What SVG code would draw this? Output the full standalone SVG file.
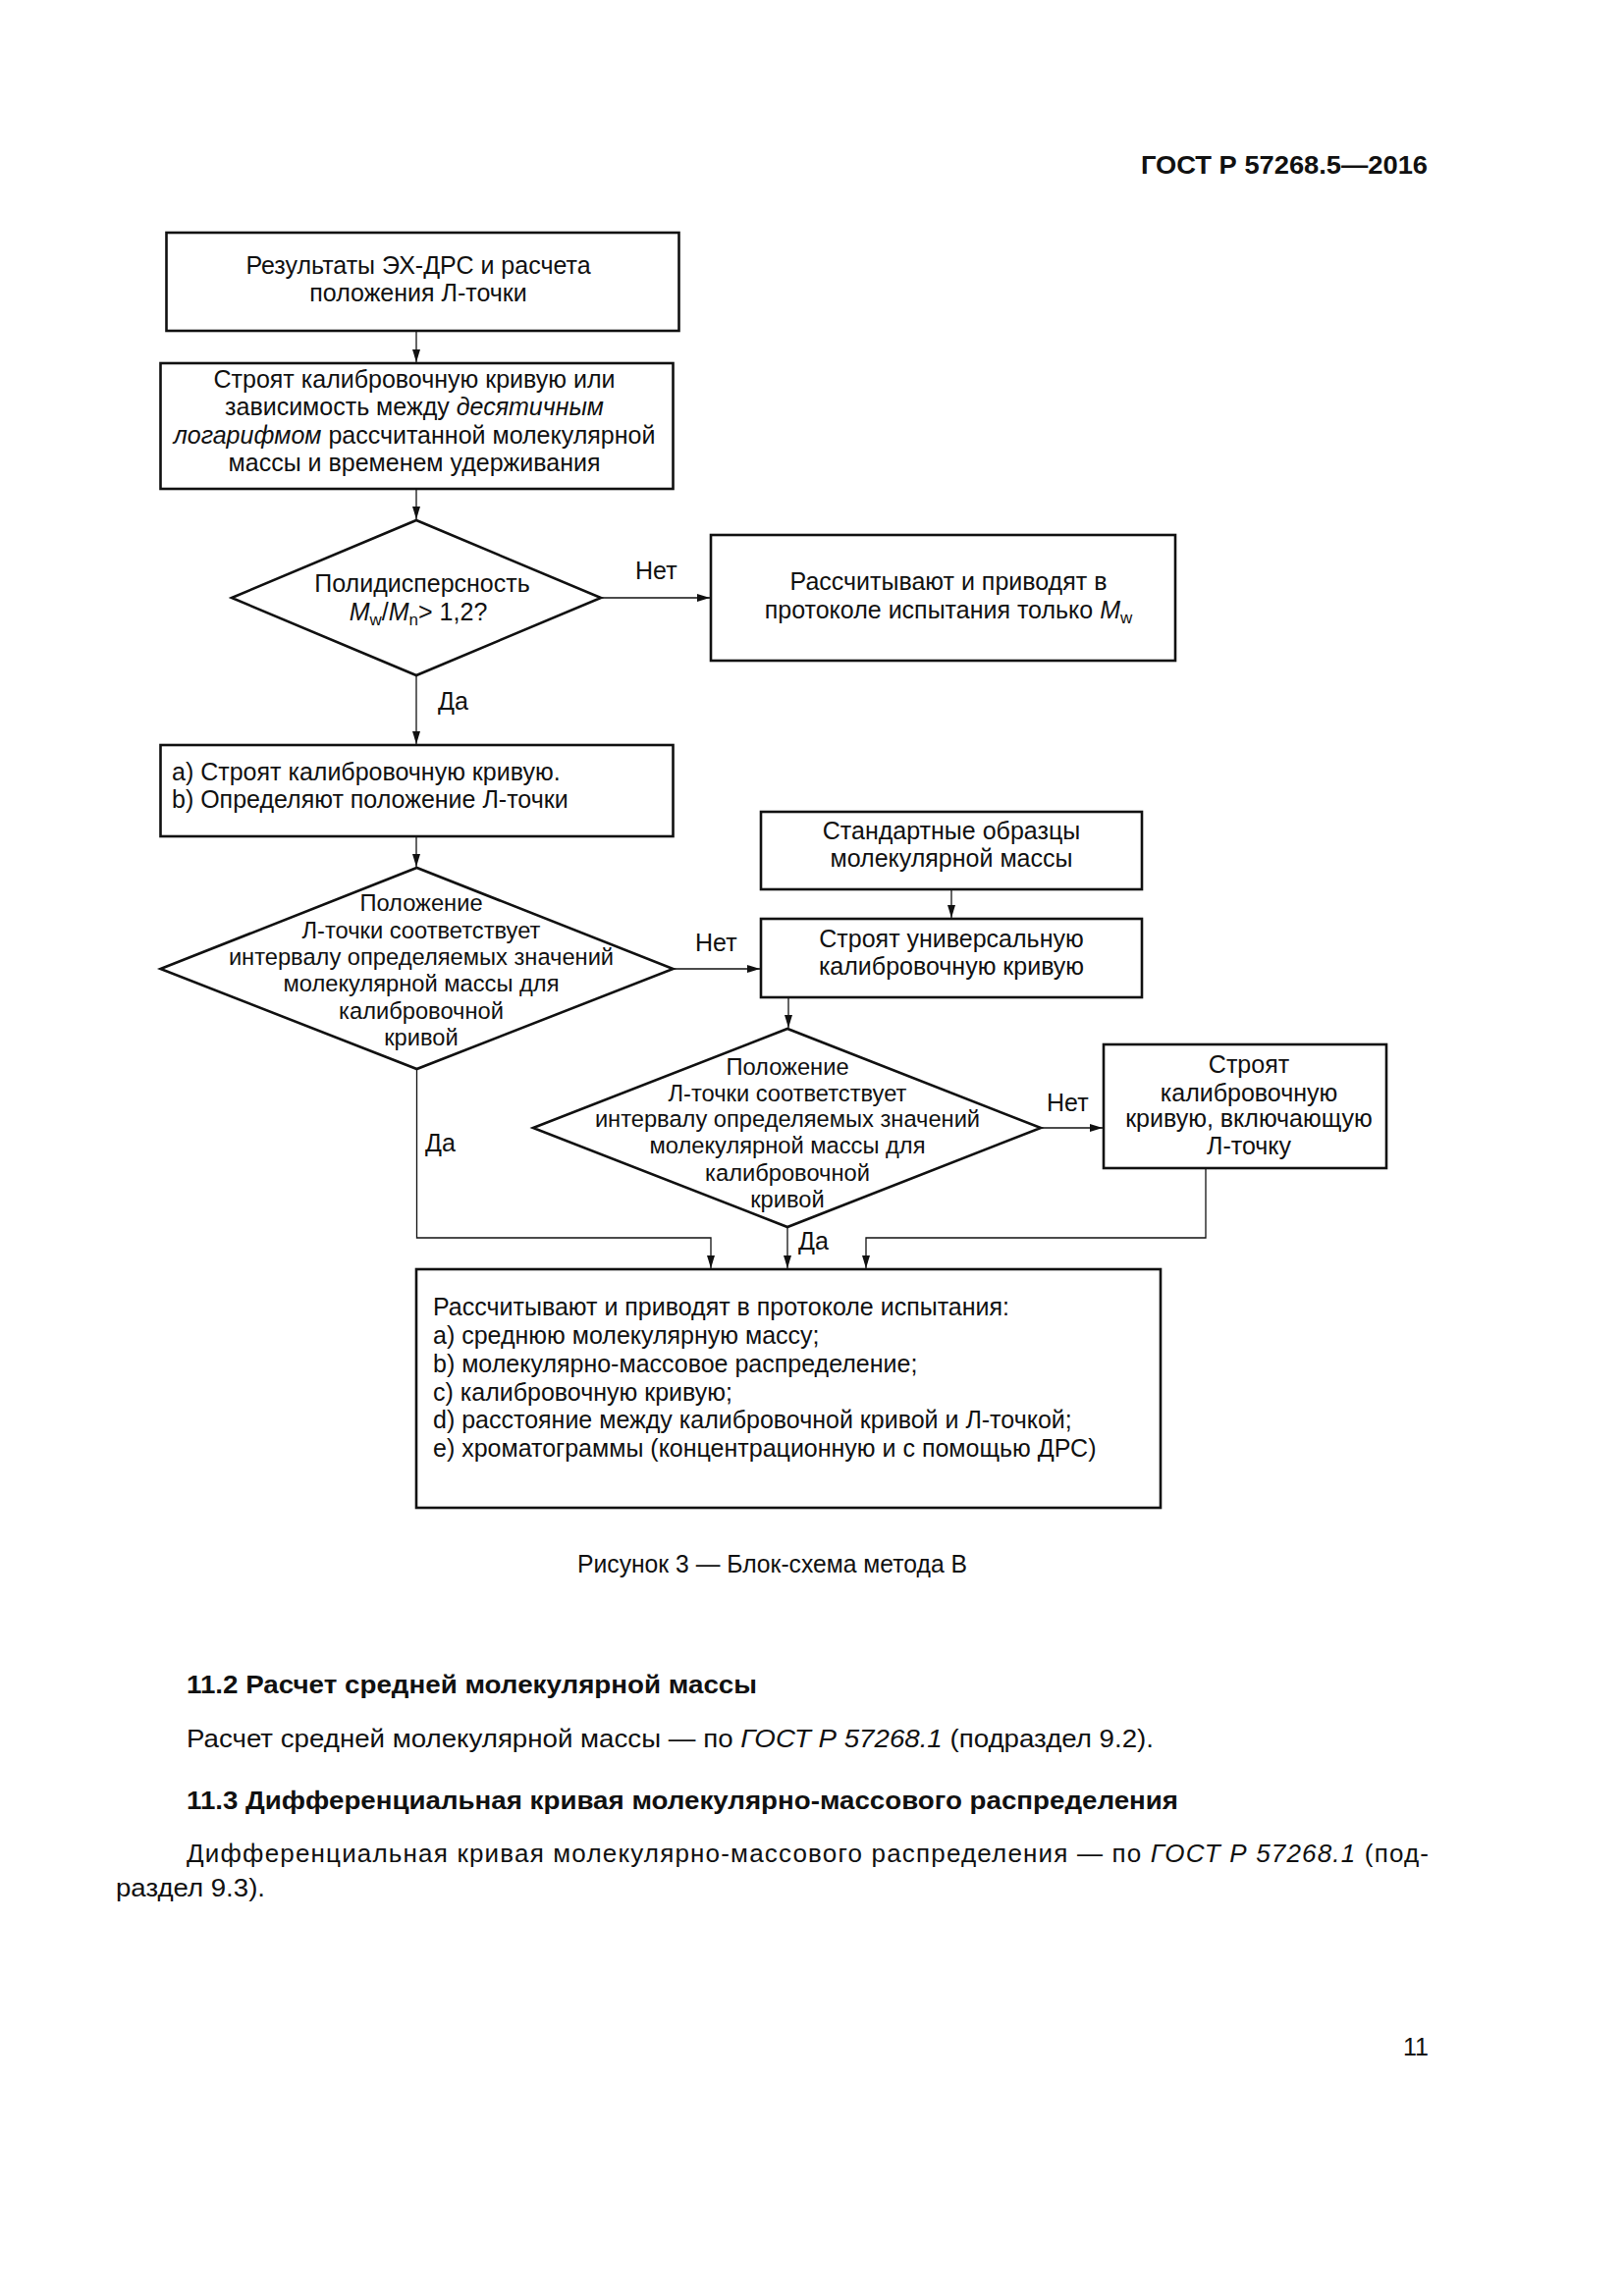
<svg xmlns="http://www.w3.org/2000/svg" width="1654" height="2339" viewBox="0 0 1654 2339">
<style>
  text { font-family: "Liberation Sans", Arial, sans-serif; fill: #111; }
  .t { font-size: 25px; }
  .d { font-size: 23.7px; }
  .c { text-anchor: middle; }
  .box { fill: none; stroke: #111; stroke-width: 2.6; }
  .ln { fill: none; stroke: #111; stroke-width: 1.3; }
  .i { font-style: italic; }
  .sub { font-size: 17px; }
  .body { font-size: 26px; }
  .b { font-weight: bold; }
</style>
<defs>
  <marker id="ah" markerUnits="userSpaceOnUse" markerWidth="14" markerHeight="10" refX="13" refY="5" orient="auto">
    <path d="M0,1 L13,5 L0,9 z" fill="#111"/>
  </marker>
</defs>
<rect width="1654" height="2339" fill="#fff"/>

<text class="b" x="1162" y="177" font-size="25.5" textLength="292" lengthAdjust="spacingAndGlyphs">ГОСТ Р 57268.5—2016</text>

<g id="connectors">
  <path class="ln" d="M424,337 V369" marker-end="url(#ah)"/>
  <path class="ln" d="M424,498 V529" marker-end="url(#ah)"/>
  <path class="ln" d="M612,609 H723" marker-end="url(#ah)"/>
  <path class="ln" d="M424,688 V758" marker-end="url(#ah)"/>
  <path class="ln" d="M424,852 V883" marker-end="url(#ah)"/>
  <path class="ln" d="M686,987 H774" marker-end="url(#ah)"/>
  <path class="ln" d="M969,906 V935" marker-end="url(#ah)"/>
  <path class="ln" d="M803,1016 V1047" marker-end="url(#ah)"/>
  <path class="ln" d="M1060,1149 H1123" marker-end="url(#ah)"/>
  <path class="ln" d="M424.5,1089 V1261 H724 V1292" marker-end="url(#ah)"/>
  <path class="ln" d="M802,1250 V1292" marker-end="url(#ah)"/>
  <path class="ln" d="M1228,1190 V1261 H882 V1292" marker-end="url(#ah)"/>
  <text class="t" x="647" y="590">Нет</text>
  <text class="t" x="446" y="723">Да</text>
  <text class="t" x="708" y="969">Нет</text>
  <text class="t" x="1066" y="1132">Нет</text>
  <text class="t" x="433" y="1173">Да</text>
  <text class="t" x="813" y="1273">Да</text>
</g>

<g id="n1">
  <rect class="box" x="169.5" y="237" width="522" height="100"/>
  <text class="t c" x="426" y="279">Результаты ЭХ-ДРС и расчета</text>
  <text class="t c" x="426" y="307">положения Л-точки</text>
</g>

<g id="n2">
  <rect class="box" x="163.5" y="370" width="522" height="128"/>
  <text class="t c" x="422" y="395">Строят калибровочную кривую или</text>
  <text class="t c" x="422" y="423">зависимость между <tspan class="i">десятичным</tspan></text>
  <text class="t c" x="422" y="451.5"><tspan class="i">логарифмом</tspan> рассчитанной молекулярной</text>
  <text class="t c" x="422" y="479.5">массы и временем удерживания</text>
</g>

<g id="n3">
  <polygon class="box" points="236,609 424,530 612,609 424,688"/>
  <text class="t c" x="430" y="603">Полидисперсность</text>
  <text class="t c" x="426" y="632"><tspan class="i">M</tspan><tspan class="sub" dy="5">w</tspan><tspan dy="-5">/</tspan><tspan class="i">M</tspan><tspan class="sub" dy="5">n</tspan><tspan dy="-5">&gt; 1,2?</tspan></text>
</g>

<g id="n4">
  <rect class="box" x="724" y="545" width="473" height="128"/>
  <text class="t c" x="966" y="601">Рассчитывают и приводят в</text>
  <text class="t c" x="966" y="630">протоколе испытания только <tspan class="i">M</tspan><tspan class="sub" dy="5">w</tspan></text>
</g>

<g id="n5">
  <rect class="box" x="163.5" y="759" width="522" height="93"/>
  <text class="t" x="175" y="795">а) Строят калибровочную кривую.</text>
  <text class="t" x="175" y="823">b) Определяют положение Л-точки</text>
</g>

<g id="n6">
  <rect class="box" x="775" y="827" width="388" height="79"/>
  <text class="t c" x="969" y="855">Стандартные образцы</text>
  <text class="t c" x="969" y="883">молекулярной массы</text>
</g>

<g id="n7">
  <rect class="box" x="775" y="936" width="388" height="80"/>
  <text class="t c" x="969" y="965">Строят универсальную</text>
  <text class="t c" x="969" y="993">калибровочную кривую</text>
</g>

<g id="n8">
  <polygon class="box" points="163.5,987 424.5,884 685.5,987 424.5,1089"/>
  <text class="d c" x="429" y="928">Положение</text>
  <text class="d c" x="429" y="956">Л-точки соответствует</text>
  <text class="d c" x="429" y="983">интервалу определяемых значений</text>
  <text class="d c" x="429" y="1010">молекулярной массы для</text>
  <text class="d c" x="429" y="1038">калибровочной</text>
  <text class="d c" x="429" y="1065">кривой</text>
</g>

<g id="n9">
  <polygon class="box" points="543,1149 802,1048 1060,1149 802,1250"/>
  <text class="d c" x="802" y="1095">Положение</text>
  <text class="d c" x="802" y="1122">Л-точки соответствует</text>
  <text class="d c" x="802" y="1148">интервалу определяемых значений</text>
  <text class="d c" x="802" y="1175">молекулярной массы для</text>
  <text class="d c" x="802" y="1203">калибровочной</text>
  <text class="d c" x="802" y="1230">кривой</text>
</g>

<g id="n10">
  <rect class="box" x="1124" y="1064" width="288" height="126"/>
  <text class="t c" x="1272" y="1093">Строят</text>
  <text class="t c" x="1272" y="1122">калибровочную</text>
  <text class="t c" x="1272" y="1148">кривую, включающую</text>
  <text class="t c" x="1272" y="1176">Л-точку</text>
</g>

<g id="n11">
  <rect class="box" x="424" y="1293" width="758" height="243"/>
  <text class="t" x="441" y="1340">Рассчитывают и приводят в протоколе испытания:</text>
  <text class="t" x="441" y="1369">а) среднюю молекулярную массу;</text>
  <text class="t" x="441" y="1398">b) молекулярно-массовое распределение;</text>
  <text class="t" x="441" y="1427">c) калибровочную кривую;</text>
  <text class="t" x="441" y="1455">d) расстояние между калибровочной кривой и Л-точкой;</text>
  <text class="t" x="441" y="1484">e) хроматограммы (концентрационную и с помощью ДРС)</text>
</g>

<text x="588" y="1602" font-size="25" textLength="397" lengthAdjust="spacingAndGlyphs">Рисунок 3 — Блок-схема метода В</text>

<text class="body b" x="190" y="1725" textLength="581" lengthAdjust="spacingAndGlyphs">11.2 Расчет средней молекулярной массы</text>
<text class="body" x="190" y="1780" textLength="985" lengthAdjust="spacingAndGlyphs">Расчет средней молекулярной массы — по <tspan class="i">ГОСТ Р 57268.1</tspan> (подраздел 9.2).</text>
<text class="body b" x="190" y="1843" textLength="1010" lengthAdjust="spacingAndGlyphs">11.3 Дифференциальная кривая молекулярно-массового распределения</text>
<text class="body" x="190" y="1897" textLength="1265" lengthAdjust="spacing">Дифференциальная кривая молекулярно-массового распределения — по <tspan class="i">ГОСТ Р 57268.1</tspan> (под-</text>
<text class="body" x="118" y="1932" textLength="152" lengthAdjust="spacingAndGlyphs">раздел 9.3).</text>

<text x="1429" y="2094" font-size="25">11</text>
</svg>
